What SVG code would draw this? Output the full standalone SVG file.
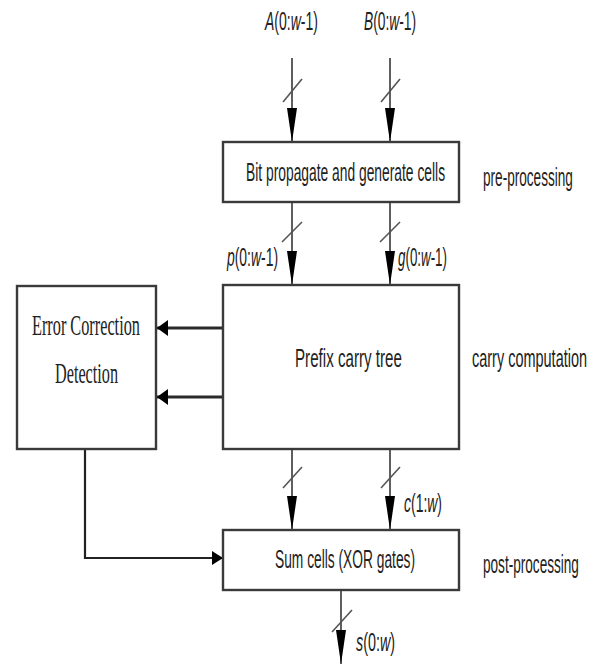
<svg xmlns="http://www.w3.org/2000/svg" width="596" height="664" viewBox="0 0 596 664">
<defs>
<style>
.box{fill:#fff;stroke:#3a3a3a;stroke-width:2.4}
.ln{stroke:#2a2a2a;stroke-width:1.5;fill:none}
.elb{stroke:#222;stroke-width:2.2;fill:none}
.thick{stroke:#2a2a2a;stroke-width:2.8;fill:none}
.sl{stroke:#555;stroke-width:1.6}
.t{font-family:"Liberation Sans",Arial,sans-serif;font-size:26px;fill:#222}
.ts{font-family:"Liberation Serif","Times New Roman",serif;font-size:29px;fill:#222}
.i{font-style:italic}
</style>
<marker id="bus" viewBox="0 0 34 10" refX="34" refY="5" markerWidth="34" markerHeight="10" markerUnits="userSpaceOnUse" orient="auto">
<path d="M0,0 L34,5 L0,10 z" fill="#000"/>
</marker>
<marker id="fat" viewBox="0 0 11 16" refX="11" refY="8" markerWidth="11" markerHeight="16" markerUnits="userSpaceOnUse" orient="auto">
<path d="M0,0 L11,8 L0,16 z" fill="#000"/>
</marker>
<marker id="mid" viewBox="0 0 11 14" refX="11" refY="7" markerWidth="11" markerHeight="14" markerUnits="userSpaceOnUse" orient="auto">
<path d="M0,0 L11,7 L0,14 z" fill="#000"/>
</marker>
</defs>

<g id="connectors">
<line class="ln" x1="292" y1="58" x2="292" y2="142" marker-end="url(#bus)"/>
<line class="sl" x1="283" y1="102" x2="302" y2="79"/>
<line class="ln" x1="390" y1="58" x2="390" y2="142" marker-end="url(#bus)"/>
<line class="sl" x1="381" y1="102" x2="400" y2="79"/>

<line class="ln" x1="292" y1="202" x2="292" y2="285" marker-end="url(#bus)"/>
<line class="sl" x1="282" y1="242" x2="302" y2="222"/>
<line class="ln" x1="390" y1="202" x2="390" y2="285" marker-end="url(#bus)"/>
<line class="sl" x1="380" y1="242" x2="400" y2="222"/>

<line class="ln" x1="292" y1="449" x2="292" y2="530" marker-end="url(#bus)"/>
<line class="sl" x1="283" y1="488" x2="302" y2="467"/>
<line class="ln" x1="390" y1="449" x2="390" y2="530" marker-end="url(#bus)"/>
<line class="sl" x1="381" y1="488" x2="400" y2="467"/>

<line class="ln" x1="341" y1="590" x2="341" y2="664" marker-end="url(#bus)"/>
<line class="sl" x1="332" y1="632" x2="352" y2="610"/>

<line class="thick" x1="223" y1="328" x2="157" y2="328" marker-end="url(#fat)"/>
<line class="thick" x1="223" y1="397" x2="157" y2="397" marker-end="url(#fat)"/>

<polyline class="elb" points="85,449 85,558 223,558" marker-end="url(#mid)"/>
</g>

<g id="inA">
<text class="t" transform="translate(265,30) scale(0.539,1)"><tspan class="i">A</tspan>(0:<tspan class="i">w</tspan>-1)</text>
</g>
<g id="inB">
<text class="t" transform="translate(364,30) scale(0.53,1)"><tspan class="i">B</tspan>(0:<tspan class="i">w</tspan>-1)</text>
</g>

<g id="preproc">
<rect class="box" x="223" y="142" width="236" height="60"/>
<text class="t" transform="translate(246,181) scale(0.532,1)">Bit propagate and generate cells</text>
</g>
<text class="t" transform="translate(483,186) scale(0.523,1)">pre-processing</text>

<text class="t" transform="translate(227,266) scale(0.535,1)"><tspan class="i">p</tspan>(0:<tspan class="i">w</tspan>-1)</text>
<text class="t" transform="translate(398,266) scale(0.514,1)"><tspan class="i">g</tspan>(0:<tspan class="i">w</tspan>-1)</text>

<g id="prefix">
<rect class="box" x="223" y="285" width="236" height="164"/>
<text class="t" transform="translate(295,367) scale(0.583,1)">Prefix carry tree</text>
</g>
<text class="t" transform="translate(472,367) scale(0.557,1)">carry computation</text>

<g id="error">
<rect class="box" x="17" y="286" width="139" height="163"/>
<text class="ts" transform="translate(32,335) scale(0.561,1)">Error Correction</text>
<text class="ts" transform="translate(55,383) scale(0.559,1)">Detection</text>
</g>

<text class="t" transform="translate(404,512) scale(0.537,1)"><tspan class="i">c</tspan>(1:<tspan class="i">w</tspan>)</text>

<g id="sum">
<rect class="box" x="223" y="530" width="236" height="60"/>
<text class="t" transform="translate(275,568) scale(0.53,1)">Sum cells (XOR gates)</text>
</g>
<text class="t" transform="translate(483,573) scale(0.523,1)">post-processing</text>

<text class="t" transform="translate(356,651) scale(0.551,1)"><tspan class="i">s</tspan>(0:<tspan class="i">w</tspan>)</text>
</svg>
